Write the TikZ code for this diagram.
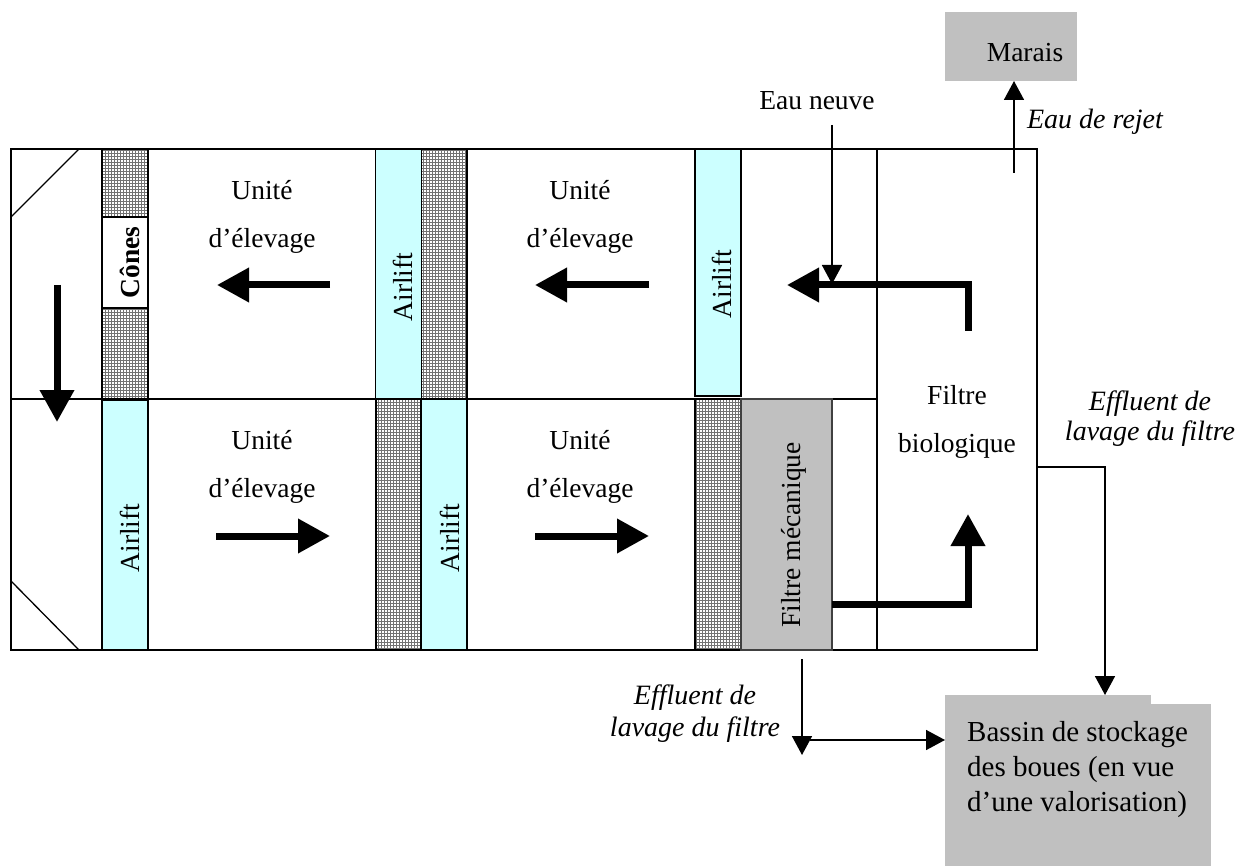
\documentclass[tikz,border=0pt]{standalone}
\usepackage{fontspec}
\setmainfont{Liberation Serif}
\usetikzlibrary{arrows.meta}
\usetikzlibrary{positioning}

\definecolor{airliftcyan}{HTML}{CCFFFF}
\definecolor{boxgray}{HTML}{C0C0C0}
\newcommand{\lab}{\fontsize{27.5}{48}\selectfont}
\newcommand{\labit}{\fontsize{28}{30}\selectfont\itshape}

\tikzset{
  wall/.style={draw,line width=1.6pt},
  airlift/.style={wall,fill=airliftcyan,rotate=90,inner sep=0pt,minimum height=46pt},
  cones/.style={wall,fill=white,rotate=90,inner sep=0pt,minimum height=46pt},
  upright/.style={rotate=90,inner sep=0pt,font=\lab},
  grayzone/.style={fill=boxgray,inner sep=0pt},
  flow/.style={line width=7pt,-{Triangle[length=32pt,width=33pt]}},
  thin flow/.style={line width=1.6pt,-{Triangle[length=19pt,width=20pt]}},
  lab/.style={inner sep=0pt,align=center,font=\lab},
  labit/.style={inner sep=0pt,align=center,font=\labit}
}

\begin{document}
\begin{tikzpicture}[x=1pt,y=-1pt]
  \useasboundingbox (0,0) rectangle (1247,866);
  % outer tank
  \node[wall,inner sep=0pt,minimum width=1026pt,minimum height=501pt] (tank) at (524,399.5){};
  \coordinate (midleft) at (11,399);
  \coordinate (midright) at (877,399);
  \coordinate (bioTop) at (877,149);
  \coordinate (bioBot) at (877,650);
  \draw[wall](midleft)--(midright);
  \draw[wall](bioTop)--(bioBot);
  % corners
  \coordinate (c1) at (11,217);
  \coordinate (c2) at (79,149);
  \coordinate (c3) at (11,581);
  \coordinate (c4) at (79,650);
  \draw[line width=1.3pt](c1)--(c2);
  \draw[line width=1.3pt](c3)--(c4);
  % hatched strips
  \foreach \name/\xa/\ya/\xb/\yb in {h1/102/149/148/217,h2/102/308/148/399,h3/421/149/467/399,h4/376/399/421/650,h5/695/399/741/650}{
    \fill[white] (\xa,\ya) rectangle (\xb,\yb);
    \draw[black!55,line width=.5pt,step=3pt] (\xa,\ya) grid (\xb,\yb);
    \draw[wall] (\xa,\ya) rectangle (\xb,\yb) coordinate (\name);
  }
  % airlifts and cones
  \node[airlift,minimum width=250pt] (air1) at (125,525){};
  \node[airlift,minimum width=250pt] (air2) at (398.5,274){};
  \node[airlift,minimum width=251pt] (air3) at (444,524.5){};
  \node[airlift,minimum width=247pt] (air4) at (718,272.5){};
  \node[cones,minimum width=91pt] (cones) at (125,262.5){};
  \node[draw=black!75,line width=1.4pt,fill=boxgray,rotate=90,inner sep=0pt,minimum width=251pt,minimum height=91pt] (mecha) at (786.5,524.5){};
  \node[upright] (airtxt1) at (130,538){Airlift};
  \node[upright] (airtxt2) at (403,287){Airlift};
  \node[upright] (airtxt3) at (450,538){Airlift};
  \node[upright] (airtxt4) at (722,284){Airlift};
  \node[upright,font=\lab\bfseries] (conestxt) at (130,262.5){Cônes};
  \node[upright] (mechatxt) at (794,535){Filtre mécanique};
  % gray boxes
  \node[grayzone,minimum width=132pt,minimum height=69pt] (marais) at (1011,46.5){};
  \node[lab] (maraistxt) at (1025,53){Marais};
  \node[grayzone,minimum width=206pt,minimum height=9pt] (bassintop) at (1048,699.5){};
  \node[grayzone,minimum width=266pt,minimum height=162pt] (bassin) at (1078,785){};
  % labels
  \node[lab] (unit1) at (262,217){Unité\\d’élevage};
  \node[lab] (unit2) at (580,217){Unité\\d’élevage};
  \node[lab] (unit3) at (262,467){Unité\\d’élevage};
  \node[lab] (unit4) at (580,467){Unité\\d’élevage};
  \node[lab] (bio) at (957,422){Filtre\\biologique};
  \node[lab] (neuve) at (817,101){Eau neuve};
  \node[labit] (rejet) at (1095,122){Eau de rejet};
  \node[labit] (eff1) at (1150,419){Effluent de\\lavage du filtre};
  \node[labit] (eff2) at (695,714){Effluent de\\[2pt]lavage du filtre};
  \node[inner sep=0pt,align=left,anchor=west,font=\fontsize{29}{35}\selectfont] (bassintext) at (967,770){Bassin de stockage\\des boues (en vue\\d’une valorisation)};
  % big flow arrows
  \coordinate (f1) at (57,285);
  \coordinate (f2) at (57,422);
  \coordinate (f3) at (330,285);
  \coordinate (f4) at (217,285);
  \coordinate (f5) at (649,285);
  \coordinate (f6) at (535,285);
  \coordinate (f7) at (216,536);
  \coordinate (f8) at (330,536);
  \coordinate (f9) at (535,536);
  \coordinate (f10) at (649,536);
  \foreach \a/\b in {f1/f2,f3/f4,f5/f6,f7/f8,f9/f10}{
    \draw[flow](\a)--(\b);
  }
  \coordinate (l1) at (968,331);
  \coordinate (l2) at (968,285);
  \coordinate (l3) at (787,285);
  \coordinate (l4) at (832,604);
  \coordinate (l5) at (968,604);
  \coordinate (l6) at (968,514);
  \draw[flow](l1)--(l2)--(l3);
  \draw[flow](l4)--(l5)--(l6);
  % thin arrows
  \coordinate (n1) at (832,125);
  \coordinate (n2) at (832,284);
  \coordinate (r1) at (1014,173);
  \coordinate (r2) at (1014,81);
  \coordinate (e1) at (1037,467);
  \coordinate (e2) at (1105,467);
  \coordinate (e3) at (1105,695);
  \coordinate (e4) at (802,659);
  \coordinate (e5) at (802,755);
  \coordinate (e6) at (810,740);
  \coordinate (e7) at (945,740);
  \draw[thin flow](n1)--(n2);
  \draw[thin flow](r1)--(r2);
  \draw[thin flow](e1)--(e2)--(e3);
  \draw[thin flow](e4)--(e5);
  \draw[thin flow](e6)--(e7);
\end{tikzpicture}
\end{document}
